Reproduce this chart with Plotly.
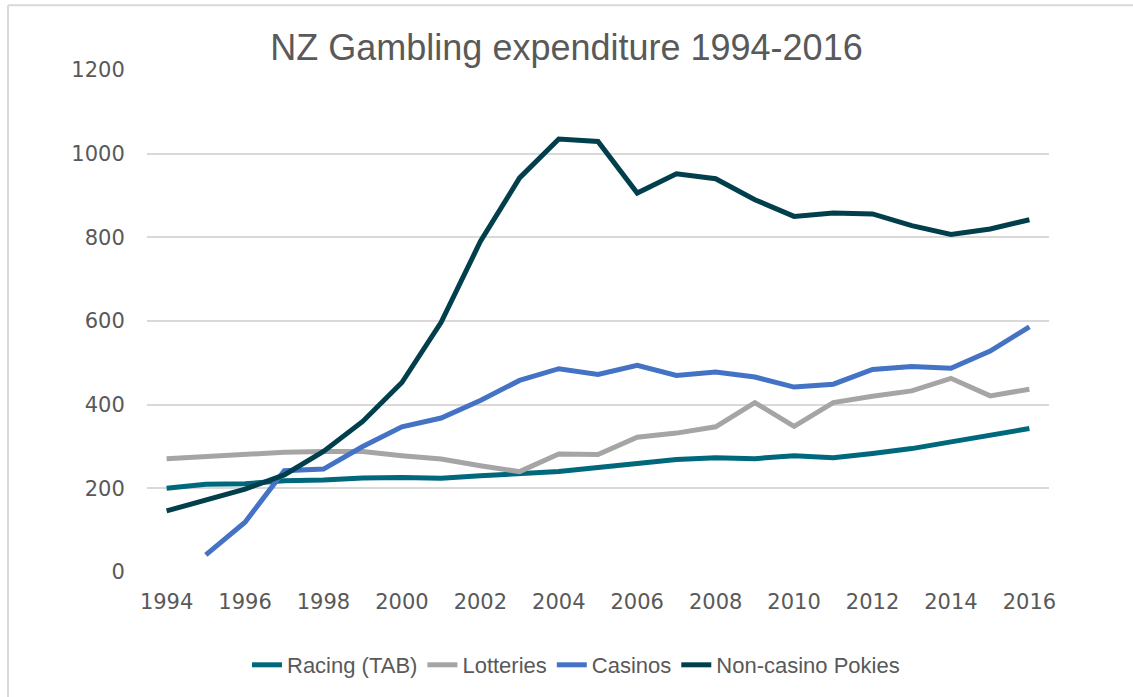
import plotly.graph_objects as go

years = list(range(1994, 2017))
racing = [200, 210, 211, 218, 220, 225, 226, 224, 230, 235, 240, 250, 259, 269, 273, 271, 278, 273, 283, 295, 311, 327, 343]
lotteries = [271, 276, 282, 286, 288, 288, 278, 270, 254, 240, 282, 281, 322, 332, 347, 405, 348, 405, 420, 433, 463, 421, 437]
casinos = [None, 41, 119, 242, 246, 300, 347, 368, 410, 458, 486, 472, 494, 470, 478, 466, 442, 449, 484, 491, 487, 528, 586]
pokies = [146, 172, 198, 232, 288, 360, 453, 597, 790, 942, 1035, 1029, 906, 952, 940, 890, 850, 858, 856, 828, 807, 820, 842]

series = [
    ("Racing (TAB)", racing, "#00687C"),
    ("Lotteries", lotteries, "#A5A5A5"),
    ("Casinos", casinos, "#4472C4"),
    ("Non-casino Pokies", pokies, "#003F4B"),
]

fig = go.Figure()
for name, vals, col in series:
    fig.add_trace(go.Scatter(
        x=years, y=vals, name=name, mode="lines",
        line=dict(color=col, width=5), connectgaps=False,
    ))

W, H = 1133, 697
L, R, T, B = 147, 84, 70, 124
pw, ph = W - L - R, H - T - B

def px_x(p):
    return (p - L) / pw

def px_y(p):
    return (H - B - p) / ph

fig.update_layout(
    width=W, height=H,
    margin=dict(l=L, r=R, t=T, b=B),
    paper_bgcolor="white", plot_bgcolor="white",
    title=dict(text="NZ Gambling expenditure 1994-2016", x=0.5, xanchor="center",
               y=1 - 47 / H, yanchor="middle",
               font=dict(family="Liberation Sans, Arial, sans-serif", size=36, color="#595959")),
    font=dict(family="Liberation Sans, Arial, sans-serif", color="#595959"),
    showlegend=True,
    legend=dict(orientation="h", x=px_x(576), xanchor="center", y=px_y(665), yanchor="middle",
                font=dict(family="Liberation Sans, Arial, sans-serif", size=22, color="#595959"),
                tracegroupgap=0, traceorder="normal"),
    xaxis=dict(range=[1993.5, 2016.5], tickmode="array", tickvals=years[::2],
               ticktext=[str(y) for y in years[::2]], showgrid=False, zeroline=False,
               showline=False, ticks="outside", ticklen=11, tickcolor="rgba(0,0,0,0)",
               tickfont=dict(family="DejaVu Sans, sans-serif", size=21, color="#595959")),
    yaxis=dict(range=[0, 1200], tickmode="array", tickvals=list(range(0, 1201, 200)),
               showgrid=True, gridcolor="#D9D9D9", gridwidth=1.5, zeroline=False,
               showline=False, ticks="outside", ticklen=17, tickcolor="rgba(0,0,0,0)",
               tickfont=dict(family="DejaVu Sans, sans-serif", size=21, color="#595959")),
    shapes=[
        dict(type="line", xref="paper", yref="paper", x0=px_x(8), x1=px_x(1150),
             y0=px_y(5), y1=px_y(5), line=dict(color="#D9D9D9", width=2)),
        dict(type="line", xref="paper", yref="paper", x0=px_x(8), x1=px_x(8),
             y0=px_y(5), y1=px_y(710), line=dict(color="#D9D9D9", width=2)),
    ],
)

fig.write_html("out.html", config={"displayModeBar": False},
               post_script="document.body.style.margin='0';")
